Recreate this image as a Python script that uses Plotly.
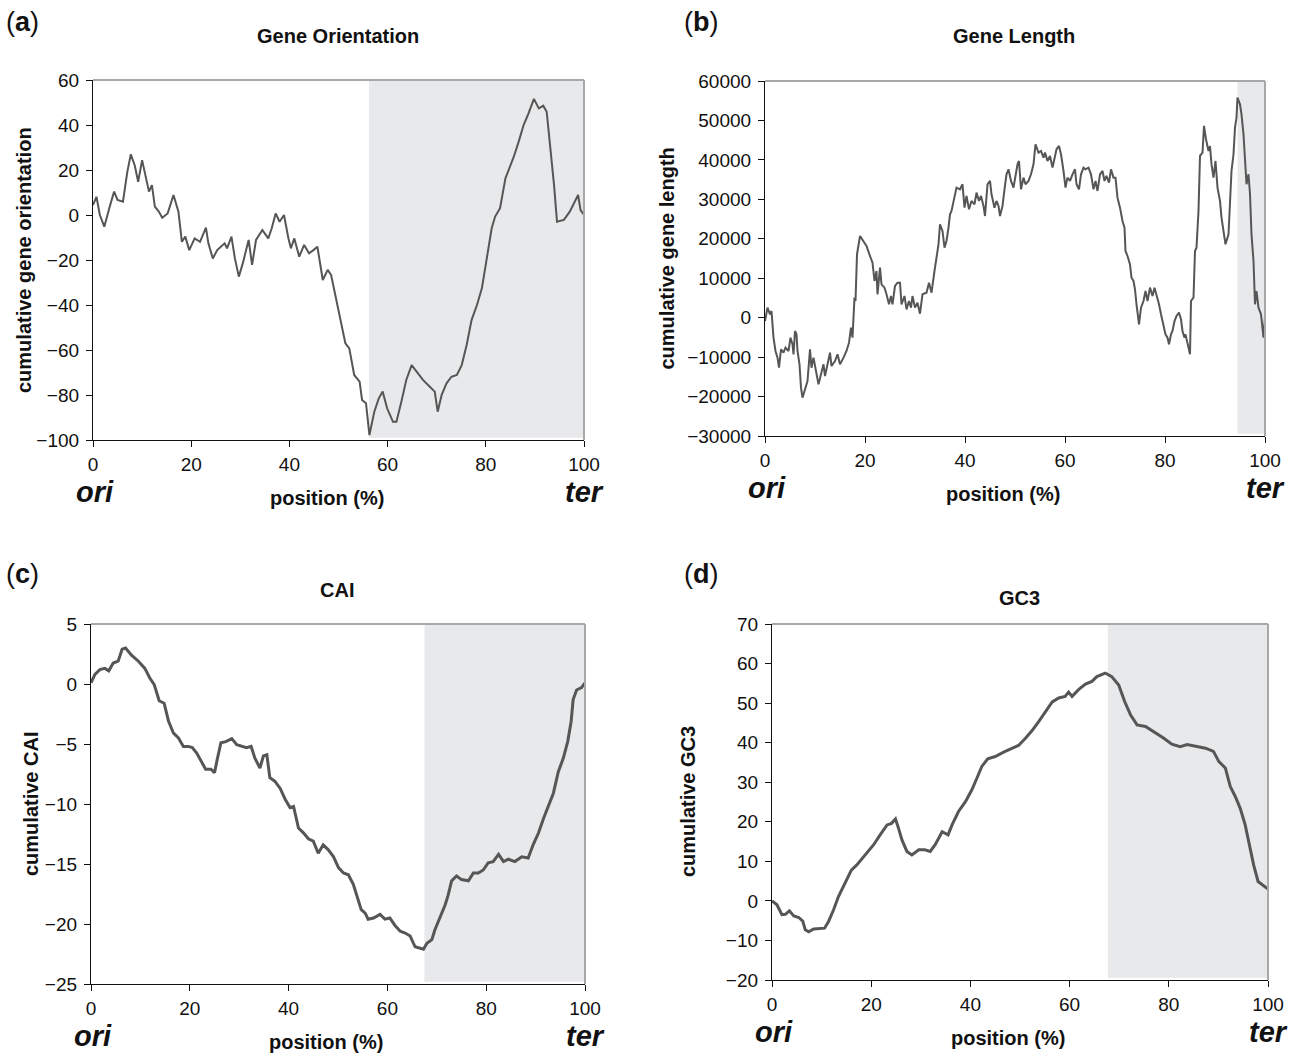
import plotly.graph_objects as go

# ---------------- data ----------------
# (a) Gene Orientation
pos_a = [0, 0.7, 1.4, 2.3, 3.4, 4.3, 5.0, 6.1, 7.0, 7.7, 8.5, 9.2, 10.0, 10.7, 11.4, 12.0, 12.6, 13.4, 14.1,
         15.2, 16.4, 17.1, 17.4, 18.1, 18.8, 19.6, 20.7, 21.8, 23.0, 23.5, 24.4, 25.3, 26.0, 26.8, 27.3, 28.2,
         28.9, 29.7, 30.5, 31.7, 32.4, 33.2, 34.5, 35.7, 36.4, 37.2, 38.0, 38.9, 39.8, 40.3, 41.0, 42.0, 43.0,
         44.0, 44.9, 45.7, 46.8, 47.8, 48.5, 49.4, 50.3, 51.4, 52.2, 53.2, 54.3, 54.8, 55.6, 56.3, 57.3, 58.2,
         59.0, 59.9, 61.1, 61.8, 62.8, 63.8, 64.9, 66.2, 67.2, 68.6, 69.6, 70.2, 71.0, 72.0, 73.0, 74.1, 75.1,
         76.1, 77.1, 78.2, 79.2, 80.2, 81.2, 81.9, 82.9, 84.0, 84.8, 85.7, 86.7, 87.7, 88.7, 89.8, 90.8, 91.7,
         92.4, 93.2, 93.9, 94.5, 95.9, 97.1, 97.9, 98.8, 99.3, 100]
val_a = [4.4, 8.1, 0, -5.2, 3.7, 10.4, 6.7, 5.9, 19.3, 27, 22, 14.8, 24.4, 17.8, 10.4, 13.3, 3.7, 1.5, -1.2,
         0.7, 8.9, 3.7, 1.5, -11.9, -9.6, -15.6, -10.4, -11.9, -5.6, -12.6, -19.3, -15.6, -14.1, -12.6, -14.8,
         -9.6, -19.3, -27.4, -21.5, -11.1, -22.2, -11.1, -6.7, -10.4, -5.9, 0.7, -3.0, 0, -10.4, -14.8, -10.4,
         -18.5, -13.3, -17, -15.6, -14.1, -28.9, -24.4, -26.7, -36.3, -45.9, -57, -59.3, -71.1, -74.1, -82.2,
         -83.7, -97.8, -87.4, -81.5, -78.5, -85.9, -91.9, -91.9, -83, -73.3, -66.7, -70.4, -73.3, -76.3, -78.5,
         -87.4, -80, -74.8, -71.9, -71.1, -66.7, -57.8, -46.7, -40, -32.6, -19.3, -5.9, -0.7, 3.0, 16.3, 20.7,
         25.9, 32.6, 40, 45.2, 51.6, 47.4, 48.6, 45.9, 29.6, 13.3, -3.0, -2.2, 1.5, 5.2, 8.9, 2.2, 0]
shade_a = [56.2, 100]

# (b) Gene Length
pos_b = [0, 0.5, 1.0, 1.3, 1.7, 2.1, 2.5, 2.8, 3.2, 3.7, 4.1, 4.7, 5.1, 5.5, 5.7, 6.0, 6.3, 6.5, 6.9, 7.2,
         7.5, 8.0, 8.5, 9.0, 9.3, 9.7, 10.1, 10.7, 11.2, 11.7, 12.0, 12.5, 13.0, 13.3, 14.0, 14.5, 15.0, 15.7,
         16.3, 16.8, 17.2, 17.5, 17.9, 18.1, 18.4, 19.0, 19.7, 20.3, 21.0, 21.5, 21.9, 22.3, 22.5, 23.0, 23.3,
         23.9, 24.3, 24.8, 25.2, 25.5, 26.0, 26.5, 27.0, 27.3, 27.9, 28.3, 28.8, 29.2, 29.5, 30.0, 30.5, 31.0,
         31.5, 32.3, 32.8, 33.3, 33.9, 34.3, 34.7, 35.0, 35.5, 35.9, 36.3, 36.7, 37.0, 37.3, 37.9, 38.3, 39.0,
         39.5, 39.9, 40.3, 40.8, 41.3, 41.9, 42.3, 42.8, 43.2, 43.7, 44.0, 44.5, 45.0, 45.3, 45.9, 46.3, 46.7,
         47.0, 47.5, 47.9, 48.3, 48.7, 49.2, 49.7, 50.0, 50.5, 50.8, 51.2, 51.7, 52.1, 52.7, 53.2, 53.7, 54.1,
         54.7, 55.2, 55.7, 56.0, 56.5, 57.0, 57.5, 57.9, 58.3, 58.8, 59.2, 59.7, 60.1, 60.5, 61.0, 61.5, 62.0,
         62.3, 62.8, 63.2, 63.7, 64.1, 64.7, 65.2, 65.7, 66.1, 66.5, 67.0, 67.5, 67.9, 68.3, 68.8, 69.2, 69.7,
         70.1, 70.5, 71.0, 71.5, 71.9, 72.1, 72.5, 73.0, 73.3, 73.7, 74.0, 74.3, 74.8, 75.2, 75.7, 76.1, 76.5,
         77.0, 77.5, 77.9, 78.3, 78.8, 79.2, 79.7, 80.1, 80.5, 80.8, 81.2, 81.5, 81.9, 82.3, 82.8, 83.2, 83.5,
         83.9, 84.1, 84.5, 85.0, 85.2, 85.7, 86.0, 86.3, 86.7, 87.0, 87.5, 87.8, 88.2, 88.7, 89.0, 89.3, 89.7,
         90.1, 90.5, 91.0, 91.3, 91.7, 92.1, 92.7, 93.0, 93.3, 93.7, 94.0, 94.3, 94.5, 95.0, 95.3, 95.7, 96.0,
         96.3, 96.7, 97.0, 97.3, 97.7, 98.0, 98.3, 98.7, 99.2, 99.7, 100]
val_b = [-850, 2540, 850, 1690, -5070, -8450, -10140, -12680, -8030, -8880, -7610, -8450, -5070, -6760, -9300,
         -3380, -4230, -8450, -11830, -17750, -20290, -18170, -16060, -8030, -12680, -10140, -12680, -16910,
         -14370, -11830, -14790, -11830, -8880, -12260, -10990, -9300, -11830, -10140, -8450, -6340, -2540,
         -5070, 5070, 4230, 16060, 20710, 19440, 18170, 15640, 13950, 9300, 11830, 5920, 12680, 8450, 7610,
         5920, 3380, 5490, 3380, 8030, 8880, 8880, 3380, 5490, 2110, 4230, 2540, 5490, 2540, 3800, 1010, 5920,
         6340, 8880, 6340, 11830, 15640, 18600, 23670, 21980, 17750, 19440, 22820, 26200, 27050, 30430, 32970,
         32540, 33810, 27890, 30850, 27470, 29590, 28740, 31700, 29590, 30850, 28320, 25780, 33810, 34660,
         31280, 27890, 29590, 28320, 25780, 28320, 32540, 36350, 37620, 34660, 32970, 35500, 38880, 39730,
         32540, 35500, 33810, 34660, 36350, 38880, 43960, 41840, 42270, 40580, 41840, 39730, 41000, 38040,
         40580, 42690, 43530, 41420, 37190, 32970, 35500, 34660, 36350, 37620, 33810, 32540, 36350, 38040,
         37620, 38040, 36350, 32540, 34660, 32120, 36350, 37190, 34660, 35930, 34240, 37620, 35500, 35500,
         30430, 27890, 24510, 22820, 16910, 15640, 13520, 10140, 9300, 7190, 3380, -1690, 2540, 4230, 6760,
         4230, 7610, 5490, 7610, 5920, 3380, 850, -2540, -4230, -5070, -6760, -4230, -3380, -850, 420, 1270,
         -420, -3380, -5070, -4230, -6760, -9300, 4230, 5070, 16910, 17750, 27050, 41000, 41840, 48610, 45230,
         42270, 43530, 38880, 35500, 39730, 32970, 29590, 25360, 21980, 18600, 21130, 29590, 37190, 41420,
         48180, 50720, 55790, 54100, 51560, 46490, 38040, 33810, 36350, 31280, 21130, 14370, 3380, 6760, 2540,
         850, -5070, 0]
shade_b = [94.5, 100]

# (c) CAI
pos_c = [0, 0.8, 1.8, 2.8, 3.6, 4.5, 5.5, 6.3, 7.0, 8.2, 9.6, 10.9, 11.9, 12.8, 13.8, 14.8, 15.7, 16.7, 17.7,
         18.7, 19.7, 20.5, 21.4, 22.3, 23.2, 24.3, 25.0, 25.6, 26.3, 27.3, 28.5, 29.5, 30.5, 31.5, 32.4, 33.2,
         34.2, 34.9, 35.6, 36.2, 37.2, 38.3, 39.3, 40.3, 41.0, 42.0, 43.0, 44.0, 45.0, 46.0, 47.0, 48.0, 49.1,
         50.1, 51.1, 52.1, 53.1, 53.8, 54.7, 55.5, 56.1, 57.2, 58.5, 59.5, 60.5, 61.5, 62.6, 63.6, 64.6, 65.6,
         66.6, 67.3, 68.0, 69.0, 69.6, 70.6, 71.7, 72.3, 73.0, 74.0, 75.0, 76.4, 77.4, 78.4, 79.4, 80.4, 81.4,
         82.5, 83.5, 84.5, 85.8, 87.2, 88.5, 89.5, 90.6, 91.6, 92.6, 93.6, 94.6, 95.6, 96.5, 97.2, 97.6, 98.3,
         99.3, 100]
val_c = [0.1, 0.8, 1.2, 1.3, 1.1, 1.75, 1.9, 2.9, 3.0, 2.4, 1.9, 1.3, 0.5, -0.05, -1.4, -1.6, -3.1, -4.1,
         -4.5, -5.2, -5.2, -5.3, -5.75, -6.4, -7.1, -7.1, -7.4, -6.2, -4.9, -4.8, -4.55, -5.05, -5.2, -5.3,
         -5.2, -6.2, -7.0, -6.0, -5.9, -7.8, -8.1, -8.7, -9.6, -10.3, -10.2, -12.0, -12.4, -12.9, -13.1, -14.1,
         -13.4, -13.8, -14.4, -15.3, -15.75, -15.9, -16.7, -17.6, -18.8, -19.1, -19.6, -19.5, -19.2, -19.6,
         -19.5, -20.1, -20.6, -20.75, -21.0, -21.9, -22.0, -22.1, -21.6, -21.3, -20.5, -19.5, -18.4, -17.6,
         -16.4, -16.0, -16.3, -16.4, -15.75, -15.75, -15.5, -14.9, -14.8, -14.2, -14.8, -14.6, -14.8, -14.4,
         -14.5, -13.4, -12.4, -11.2, -10.1, -9.1, -7.3, -6.2, -4.8, -3.1, -1.3, -0.5, -0.3, 0.1]
shade_c = [67.5, 100]

# (d) GC3
pos_d = [0, 1.0, 2.0, 2.7, 3.5, 4.4, 5.4, 6.2, 6.7, 7.4, 8.4, 9.7, 10.6, 11.4, 12.4, 13.4, 14.8, 16.0, 17.1,
         18.1, 19.2, 20.5, 21.8, 23.2, 24.1, 24.9, 25.5, 26.2, 27.2, 28.2, 29.6, 30.8, 31.9, 32.9, 34.3, 35.5,
         36.3, 37.6, 39.0, 40.3, 41.3, 42.3, 43.5, 45.0, 46.7, 48.4, 49.7, 51.1, 52.4, 53.8, 55.1, 56.5, 57.8,
         59.1, 59.8, 60.5, 61.8, 63.2, 64.5, 65.5, 67.2, 68.5, 69.9, 71.1, 72.3, 73.6, 75.3, 77.0, 79.0, 80.6,
         82.3, 83.7, 85.7, 87.4, 89.0, 90.1, 91.4, 92.4, 93.4, 94.4, 95.4, 96.4, 97.1, 98.0, 99.1, 100]
val_d = [0, -1.0, -3.5, -3.4, -2.5, -3.8, -4.2, -5.1, -7.3, -7.8, -7.1, -6.9, -6.9, -5.2, -2.3, 1.1, 4.5, 7.8,
         9.1, 10.6, 12.5, 14.2, 16.7, 19.2, 19.6, 20.7, 18.4, 15.4, 12.5, 11.6, 12.9, 12.9, 12.5, 14.2, 17.5,
         16.7, 19.2, 22.6, 25.1, 28.1, 31.0, 34.0, 35.9, 36.5, 37.6, 38.6, 39.3, 41.1, 43.0, 45.4, 47.9, 50.3,
         51.3, 51.7, 52.8, 51.7, 53.4, 54.8, 55.5, 56.7, 57.6, 56.7, 54.6, 50.4, 47.0, 44.5, 44.1, 42.8, 41.1,
         39.6, 39.0, 39.5, 39.0, 38.6, 37.8, 35.2, 33.6, 28.9, 26.4, 23.4, 19.2, 13.3, 9.1, 4.9, 3.9, 3.0]
shade_d = [67.7, 100]

x_ticks = [0, 20, 40, 60, 80, 100]
titles = ["Gene Orientation", "Gene Length", "CAI", "GC3"]
ytitles = ["cumulative gene orientation", "cumulative gene length", "cumulative CAI", "cumulative GC3"]
labels = ["a", "b", "c", "d"]
yranges = [[-100, 60], [-30000, 60000], [-25, 5], [-20, 70]]
ydticks = [20, 10000, 5, 10]

# ---------------- layout geometry (pixels) ----------------
W, H = 1299, 1055
FONT = "Liberation Sans, Arial, sans-serif"
LINE_COLOR = "#565656"
SHADE = "#e8e9eb"
BORDER = "#a8a8a8"
TXT = "#111111"

# plot boxes: left, right, top, bottom
boxes = [(93, 584, 80, 440), (765, 1265, 81, 436), (91, 585, 624, 984), (772, 1268, 624, 980)]
widths = [2.0, 2.0, 3.0, 3.0]


def px(x):
    return x / W


def py(y):
    return 1 - y / H


panels = [(pos_a, val_a, shade_a), (pos_b, val_b, shade_b), (pos_c, val_c, shade_c), (pos_d, val_d, shade_d)]

fig = go.Figure()
shapes = []
annotations = []
layout_axes = {}

for i, ((xs, ys, shade), (l, r, t, b)) in enumerate(zip(panels, boxes)):
    n = "" if i == 0 else str(i + 1)
    xa, ya = "x" + n, "y" + n
    fig.add_trace(go.Scatter(x=xs, y=ys, mode="lines", xaxis=xa, yaxis=ya,
                             line=dict(color=LINE_COLOR, width=widths[i]), showlegend=False,
                             hoverinfo="x+y"))
    layout_axes["xaxis" + n] = dict(
        domain=[px(l), px(r)], anchor=ya, range=[0, 100], tickvals=x_ticks, automargin=False,
        showgrid=False, zeroline=False, showline=True, linecolor=TXT, linewidth=1.2,
        ticks="outside", ticklen=6, tickcolor=TXT, tickwidth=1.2, ticklabelstandoff=1,
        tickfont=dict(family=FONT, size=19, color=TXT), fixedrange=True)
    layout_axes["yaxis" + n] = dict(
        domain=[py(b), py(t)], anchor=xa, range=yranges[i], dtick=ydticks[i], tick0=0, automargin=False,
        tickformat="d", showgrid=False, zeroline=False, showline=True, linecolor=TXT, linewidth=1.2,
        ticks="outside", ticklen=6, tickcolor=TXT, tickwidth=1.2, ticklabelstandoff=3,
        tickfont=dict(family=FONT, size=19, color=TXT), fixedrange=True)
    # shaded region
    shapes.append(dict(type="rect", xref=xa, yref=ya + " domain", x0=shade[0], x1=shade[1], y0=0.006, y1=1,
                       fillcolor=SHADE, line=dict(width=0), layer="below"))
    # top and right border
    shapes.append(dict(type="line", xref=xa + " domain", yref=ya + " domain", x0=0, x1=1, y0=1, y1=1,
                       line=dict(color=BORDER, width=2), layer="above"))
    shapes.append(dict(type="line", xref=xa + " domain", yref=ya + " domain", x0=1, x1=1, y0=0, y1=1,
                       line=dict(color=BORDER, width=2), layer="above"))

    top_row = i < 2
    # panel label
    lx = 4 if i % 2 == 0 else 682
    ly = 22 if top_row else 574
    annotations.append(dict(text="(<b>%s</b>)" % labels[i], x=px(lx), y=py(ly), xref="paper", yref="paper",
                            xanchor="left", yanchor="middle", showarrow=False,
                            font=dict(family=FONT, size=27, color=TXT)))
    # title
    tx = (l + r) / 2 - 1
    ty = 36 if top_row else (590 if i == 2 else 598)
    annotations.append(dict(text="<b>%s</b>" % titles[i], x=px(tx), y=py(ty), xref="paper", yref="paper",
                            xanchor="center", yanchor="middle", showarrow=False,
                            font=dict(family=FONT, size=20, color=TXT)))
    # y title
    ytx = {0: 24, 1: 666, 2: 31, 3: 688}[i]
    annotations.append(dict(text="<b>%s</b>" % ytitles[i], x=px(ytx), y=py((t + b) / 2), xref="paper",
                            yref="paper", xanchor="center", yanchor="middle", textangle=-90,
                            showarrow=False, font=dict(family=FONT, size=20, color=TXT)))
    # x title
    xtx = (l + r) / 2 - 12
    annotations.append(dict(text="<b>position (%)</b>", x=px(xtx), y=py(b + 58), xref="paper", yref="paper",
                            xanchor="center", yanchor="middle", showarrow=False,
                            font=dict(family=FONT, size=20, color=TXT)))
    # ori / ter
    for word, xx in (("ori", l + 2), ("ter", r)):
        annotations.append(dict(text="<b><i>%s</i></b>" % word, x=px(xx), y=py(b + 52), xref="paper",
                                yref="paper", xanchor="center", yanchor="middle", showarrow=False,
                                font=dict(family=FONT, size=29, color=TXT)))

fig.update_layout(width=W, height=H, autosize=False,
                  margin=dict(l=0, r=0, t=0, b=0, pad=0, autoexpand=False),
                  paper_bgcolor="white", plot_bgcolor="white", shapes=shapes, annotations=annotations,
                  **layout_axes)

fig.write_html("out.html", config={"displayModeBar": False},
               post_script="document.body.style.margin='0';document.body.style.overflow='hidden';")
